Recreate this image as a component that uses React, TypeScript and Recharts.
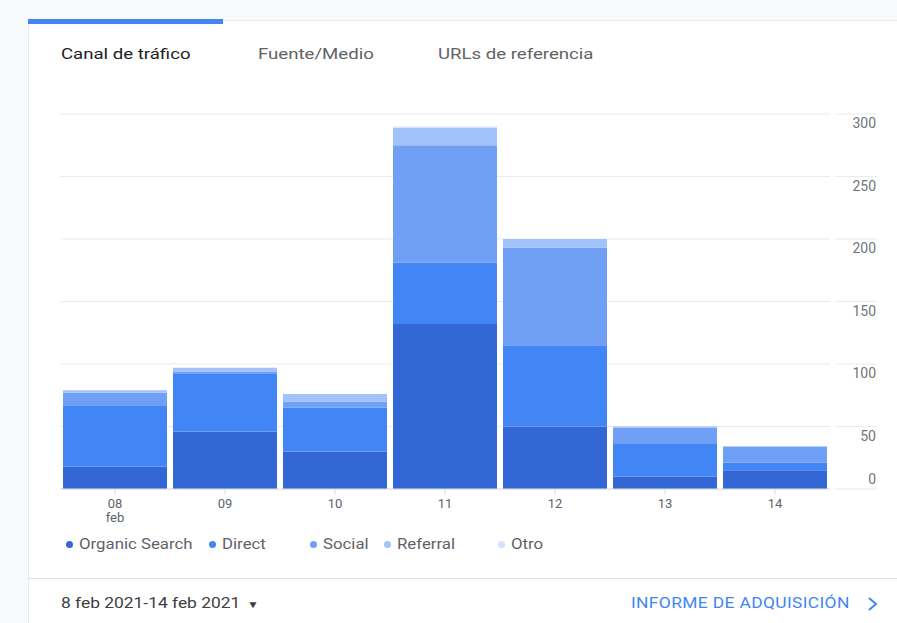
import { BarChart, Bar, XAxis, YAxis, CartesianGrid } from "recharts";

const days = ["08", "09", "10", "11", "12", "13", "14"];
const organicSearch = [18, 46, 30, 132, 50, 10, 15];
const direct = [49, 46, 35, 49, 65, 26, 6];
const social = [10, 2, 5, 94, 78, 13, 13];
const referral = [2, 3, 6, 14, 7, 1, 0];
const otro = [0, 0, 0, 1, 0, 0, 0];
const yTicks = [0, 50, 100, 150, 200, 250, 300];

const series = [
  { key: "organic", name: "Organic Search", color: "#3367d6" },
  { key: "direct", name: "Direct", color: "#4285f4" },
  { key: "social", name: "Social", color: "#6fa0f5" },
  { key: "referral", name: "Referral", color: "#a1c2fa" },
  { key: "otro", name: "Otro", color: "#d2e3fc" },
];

// legend item left edges (layout only)
const legendLeft = [66, 209, 310, 384, 498];

const data = days.map((d, i) => ({
  day: d,
  organic: organicSearch[i],
  direct: direct[i],
  social: social[i],
  referral: referral[i],
  otro: otro[i],
}));

const FONT = "Roboto, Arial, sans-serif";
const stretch = { transform: "scaleX(1.2)", transformOrigin: "left center", whiteSpace: "nowrap" as const };

function XTick(props: any) {
  const { x, y, payload, index } = props;
  return (
    <g>
      <text x={x} y={y} dy={13} textAnchor="middle" fill="#5f6368" fontSize={13} fontFamily={FONT}>
        {payload.value}
      </text>
      {index === 0 && (
        <text x={x} y={y} dy={27} textAnchor="middle" fill="#5f6368" fontSize={13} fontFamily={FONT}>
          feb
        </text>
      )}
    </g>
  );
}

function YTick(props: any) {
  const { x, y, payload } = props;
  const dy = payload.value === 0 ? -5 : 14;
  return (
    <g>
      <line x1={x} x2={x + 42} y1={y} y2={y} stroke="#ebebeb" />
      <text x={x + 41} y={y} dy={dy} textAnchor="end" fill="#70757a" fontSize={14} fontFamily={FONT}>
        {payload.value}
      </text>
    </g>
  );
}

export default function App() {
  return (
    <div
      style={{
        position: "absolute",
        left: 0,
        top: 0,
        width: 897,
        height: 623,
        background: "#f8f9fa",
        fontFamily: FONT,
        overflow: "hidden",
      }}
    >
      {/* card */}
      <div
        style={{
          position: "absolute",
          left: 28,
          top: 20,
          width: 880,
          height: 620,
          background: "#fff",
          borderLeft: "1px solid #e8eaed",
          borderTop: "1px solid #e8eaed",
        }}
      />
      <div style={{ position: "absolute", left: 28, top: 19, width: 195, height: 5, background: "#4285f4" }} />

      {/* tabs */}
      <div style={{ position: "absolute", left: 61, top: 45, fontSize: 15.5, color: "#202124", ...stretch }}>
        Canal de tráfico
      </div>
      <div style={{ position: "absolute", left: 258, top: 45, fontSize: 15.5, color: "#5f6368", ...stretch }}>
        Fuente/Medio
      </div>
      <div style={{ position: "absolute", left: 438, top: 45, fontSize: 15.5, color: "#5f6368", ...stretch }}>
        URLs de referencia
      </div>

      <div style={{ position: "absolute", left: 0, top: 0 }}>
        <BarChart
          width={897}
          height={540}
          data={data}
          margin={{ top: 114, left: 60, right: 17, bottom: 21 }}
          barCategoryGap={3}
        >
          <CartesianGrid vertical={false} stroke="#ebebeb" />
          <XAxis
            dataKey="day"
            height={30}
            tick={<XTick />}
            tickSize={6}
            tickMargin={0}
            tickLine={{ stroke: "#dadce0" }}
            axisLine={{ stroke: "#e0e0e0" }}
            interval={0}
          />
          <YAxis
            orientation="right"
            width={50}
            domain={[0, 300]}
            ticks={yTicks}
            tick={<YTick />}
            tickSize={0}
            tickMargin={5}
            axisLine={false}
            tickLine={false}
          />
          {series.map((s) => (
            <Bar
              key={s.key}
              dataKey={s.key}
              name={s.name}
              stackId="a"
              fill={s.color}
              isAnimationActive={false}
            />
          ))}
        </BarChart>
      </div>

      {/* legend */}
      {series.map((s, i) => (
        <div
          key={s.key}
          style={{
            position: "absolute",
            left: legendLeft[i],
            top: 536,
            display: "flex",
            alignItems: "center",
            fontSize: 14,
            color: "#5f6368",
            whiteSpace: "nowrap",
          }}
        >
          <span
            style={{
              width: 7,
              height: 7,
              borderRadius: "50%",
              background: s.color,
              display: "inline-block",
              marginRight: 6,
            }}
          />
          <span style={{ display: "inline-block", ...stretch }}>{s.name}</span>
        </div>
      ))}

      {/* footer */}
      <div style={{ position: "absolute", left: 28, top: 578, width: 880, height: 1, background: "#e0e0e0" }} />
      <div style={{ position: "absolute", left: 61, top: 595, fontSize: 14.5, color: "#3c4043", ...stretch }}>
        8 feb 2021-14 feb 2021 <span style={{ fontSize: 10, marginLeft: 2 }}>▼</span>
      </div>
      <div
        style={{
          position: "absolute",
          left: 631,
          top: 595,
          fontSize: 14.5,
          color: "#4285f4",
          letterSpacing: 0.3,
          ...stretch,
        }}
      >
        INFORME DE ADQUISICIÓN
      </div>
      <svg style={{ position: "absolute", left: 866, top: 596 }} width={14} height={16}>
        <polyline points="3,2 10,8 3,14" fill="none" stroke="#4285f4" strokeWidth={2} />
      </svg>
    </div>
  );
}
